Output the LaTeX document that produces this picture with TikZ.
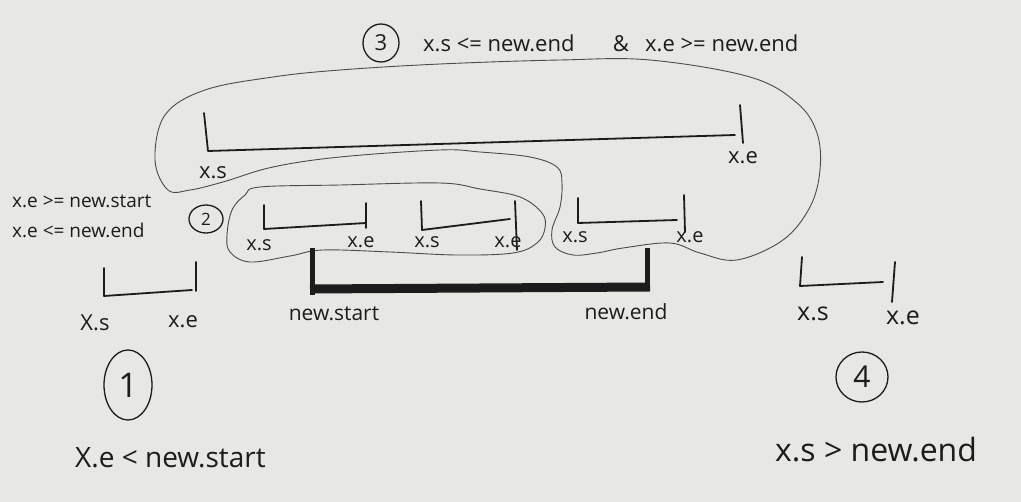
\documentclass[tikz,border=0pt]{standalone}
\usepackage{fontspec}
\setmainfont{Open Sans}
\usetikzlibrary{shapes.geometric}
\definecolor{paper}{RGB}{231,231,228}
\definecolor{ink}{RGB}{28,28,28}
\definecolor{pencil}{RGB}{75,75,75}
\begin{document}
\begin{tikzpicture}[x=1pt,y=-1pt,
  iv/.style={ink, line width=1.8pt, line join=round, line cap=round},
  loopline/.style={pencil, line width=0.9pt},
  barline/.style={ink, line width=9pt},
  bartick/.style={ink, line width=5pt},
  lbl/.style={text=ink, inner sep=0pt, font=\fontsize{22}{26}\selectfont},
  small/.style={text=ink, inner sep=0pt, font=\fontsize{20}{24}\selectfont},
  cond/.style={text=ink, inner sep=0pt, font=\fontsize{19}{22}\selectfont},
  big/.style={text=ink, inner sep=0pt, font=\fontsize{28}{32}\selectfont},
  numcirc/.style={draw=ink, line width=1.3pt, ellipse, inner sep=0pt, text=ink}]
\fill[paper] (0,0) rectangle (1021,502);
\useasboundingbox (0,0) rectangle (1021,502);

% loop 3
\draw[loopline] plot[smooth cycle, tension=0.6] coordinates {(168,190) (155,160) (165,115) (205,90) (273,77) (340,70) (440,64) (560,60) (650,60) (750,77) (797,103) (817,133) (820,170) (810,207) (783,240) (737,260) (700,253) (670,243) (623,248) (597,253) (573,255) (555,247) (552,230) (560,207) (562,183) (557,167) (530,157) (480,152) (440,150) (340,157) (273,167) (223,182) (190,190)};
% loop 2
\draw[loopline] plot[smooth cycle, tension=0.6] coordinates {(260,187) (340,185) (440,183) (480,189) (520,197) (542,213) (545,228) (537,243) (513,253) (457,255) (390,252) (323,250) (290,256) (250,262) (230,252) (227,235) (232,210) (245,195)};

% top interval
\draw[iv] (204,113) -- (208,151) -- (735,135);
\draw[iv] (740,105) -- (743,143);
% interval A
\draw[iv] (264,205) -- (264,229) -- (366,223);
\draw[iv] (366,203) -- (366,228);
% interval B
\draw[iv] (421,201) -- (422,230) -- (510,219);
\draw[iv] (515,201) -- (517,250);
% interval C
\draw[iv] (578,198) -- (578,223) -- (677,220);
\draw[iv] (684,195) -- (685,232);
% interval 1
\draw[iv] (104,268) -- (104,296) -- (192,290);
\draw[iv] (196,262) -- (196,291);
% interval 4
\draw[iv] (802,257) -- (800,286) -- (883,282);
\draw[iv] (895,262) -- (892,302);

% new interval bar
\draw[barline] (310,289) -- (650,287);
\draw[bartick] (312,248) -- (312,295);
\draw[bartick] (647,248) -- (647,290);

% texts
\node[numcirc, minimum width=36pt, minimum height=38pt, font=\fontsize{22}{24}\selectfont] (c3) at (381,43) {3};
\node[lbl, anchor=west] (t3a) at (423,43) {x.s <= new.end};
\node[lbl] (amp) at (621,44) {\&};
\node[lbl, anchor=west] (t3b) at (645,43) {x.e >= new.end};

\node[cond, anchor=west] (t2a) at (12,201) {x.e >= new.start};
\node[cond, anchor=west] (t2b) at (12,230) {x.e <= new.end};
\node[numcirc, minimum width=34pt, minimum height=28pt, font=\fontsize{17}{20}\selectfont] (c2) at (206,219) {2};

\node[lbl] (xs3) at (213,173) {x.s};
\node[lbl] (xe3) at (743,158) {x.e};

\node[small] (xsA) at (259,245) {x.s};
\node[small] (xeA) at (361,242) {x.e};
\node[small] (xsB) at (427,242) {x.s};
\node[small] (xeB) at (508,242) {x.e};
\node[small] (xsC) at (575,237) {x.s};
\node[small] (xeC) at (690,237) {x.e};

\node[lbl, font=\fontsize{21}{25}\selectfont] (ns) at (334,314) {new.start};
\node[lbl, font=\fontsize{21}{25}\selectfont] (ne) at (626,312) {new.end};

\node[lbl] (xs1) at (95,323) {X.s};
\node[lbl] (xe1) at (183,322) {x.e};
\node[lbl, font=\fontsize{25}{29}\selectfont] (xs4) at (813,314) {x.s};
\node[lbl, font=\fontsize{25}{29}\selectfont] (xe4) at (903,318) {x.e};

\node[numcirc, minimum width=48pt, minimum height=70pt, font=\fontsize{34}{38}\selectfont] (c1) at (128,385) {1};
\node[big, anchor=west] (t1) at (75,458) {X.e < new.start};
\node[numcirc, minimum width=52pt, minimum height=50pt, font=\fontsize{30}{34}\selectfont] (c4) at (862,377) {4};
\node[big, anchor=west, font=\fontsize{32}{36}\selectfont] (t4) at (775,450) {x.s > new.end};
\end{tikzpicture}
\end{document}
